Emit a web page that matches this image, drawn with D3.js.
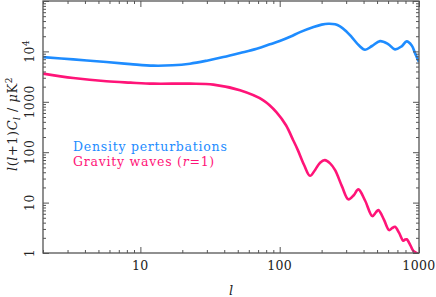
<!DOCTYPE html>
<html>
<head>
<meta charset="utf-8">
<script src="https://cdn.jsdelivr.net/npm/d3@7"></script>
<style>
  body { margin: 0; background: #fff; }
  svg { display: block; }
  text { font-family: "DejaVu Serif", "Liberation Serif", serif; }
</style>
</head>
<body>
<svg id="chart"></svg>
<script>
// multipoles l and the two spectra, l(l+1)C_l in uK^2
const densityL = [2, 3.3, 5.7, 8.5, 12.4, 17, 22.7, 30, 39.4, 52, 68.4, 85, 100, 120, 140, 175, 200, 223, 250, 271, 300, 329, 370, 410, 460, 525, 600, 673, 750, 816, 887, 940, 1000];
const densityCl = [7700, 6950, 6140, 5600, 5210, 5300, 5710, 6550, 7710, 9300, 11300, 13800, 16100, 19800, 24100, 30500, 34000, 35400, 34500, 31300, 25200, 19200, 13200, 10800, 12800, 16000, 14000, 10960, 12600, 15800, 13100, 9000, 6140];
const gravityL = [2, 3.3, 5.7, 8.5, 12.4, 22.7, 33.4, 51.9, 76.3, 95, 111, 125, 135, 150, 165, 180, 195, 211, 230, 250, 280, 311, 340, 367, 410, 462, 490, 511, 560, 610, 640, 673, 720, 772, 795, 816, 870, 911, 1000];
const gravityCl = [3620, 2960, 2550, 2400, 2290, 2290, 2190, 1690, 1070, 620, 342, 173, 110, 55, 34, 45, 62, 69.5, 60, 44, 21, 11.6, 14, 18.3, 11, 5.4, 6.4, 7.1, 4.6, 2.85, 3.1, 3.32, 2.5, 1.75, 1.85, 1.87, 1.4, 1.1, 0.95];

const xMajor = [10, 100, 1000];
const xMinor = [2, 3, 4, 5, 6, 7, 8, 9, 20, 30, 40, 50, 60, 70, 80, 90, 200, 300, 400, 500, 600, 700, 800, 900];
const yMajor = [1, 10, 100, 1000, 10000, 100000];
const yMinor = [];
[1, 10, 100, 1000, 10000].forEach(d => { for (let k = 2; k <= 9; k++) yMinor.push(d * k); });
const yLabels = ["1", "10", "100", "1000", "10^4"];

const W = 436, H = 297;
const margin = { top: 1, right: 17, bottom: 44, left: 43 };

const svg = d3.select("#chart").attr("width", W).attr("height", H);

const x = d3.scaleLog().domain([2, 1000]).range([margin.left, W - margin.right]);
const y = d3.scaleLog().domain([1, 1e5]).range([H - margin.bottom, margin.top]);

const AXIS = "#555";
const BLUE = "#1e8cff";
const PINK = "#ff1478";

svg.append("clipPath").attr("id", "plot")
  .append("rect")
  .attr("x", x.range()[0]).attr("y", y.range()[1])
  .attr("width", x.range()[1] - x.range()[0])
  .attr("height", y.range()[0] - y.range()[1]);

// curves
const line = (ls, vs) => d3.line()
  .x(i => x(ls[i]))
  .y(i => y(vs[i]))
  .curve(d3.curveCatmullRom.alpha(0.5))(d3.range(ls.length));

svg.append("path")
  .attr("d", line(densityL, densityCl))
  .attr("fill", "none").attr("stroke", BLUE).attr("stroke-width", 2.6)
  .attr("clip-path", "url(#plot)");

svg.append("path")
  .attr("d", line(gravityL, gravityCl))
  .attr("fill", "none").attr("stroke", PINK).attr("stroke-width", 2.6)
  .attr("clip-path", "url(#plot)");

// frame with ticks on all four sides, pointing inward
const x0 = x.range()[0], x1 = x.range()[1];
const y0 = y.range()[0], y1 = y.range()[1];

const bottomAxis = (vals, len) => d3.axisTop(x).tickValues(vals).tickSize(len).tickFormat("");
const topAxis = (vals, len) => d3.axisBottom(x).tickValues(vals).tickSize(len).tickFormat("");
const leftAxis = (vals, len) => d3.axisRight(y).tickValues(vals).tickSize(len).tickFormat("");
const rightAxis = (vals, len) => d3.axisLeft(y).tickValues(vals).tickSize(len).tickFormat("");

const axes = [
  [bottomAxis, `translate(0,${y0})`],
  [topAxis, `translate(0,${y1})`],
  [leftAxis, `translate(${x0},0)`],
  [rightAxis, `translate(${x1},0)`]
];
axes.forEach(([fn, tr]) => {
  const isX = fn === bottomAxis || fn === topAxis;
  [[isX ? xMinor : yMinor, 3], [isX ? xMajor : yMajor, 6]].forEach(([vals, len]) => {
    const g = svg.append("g").attr("transform", tr).call(fn(vals, len));
    g.select(".domain").remove();
    g.selectAll("line").attr("stroke", AXIS).attr("stroke-width", 1);
  });
});

svg.append("rect")
  .attr("x", x0).attr("y", y1)
  .attr("width", x1 - x0).attr("height", y0 - y1)
  .attr("fill", "none").attr("stroke", AXIS).attr("stroke-width", 1.3);

// x tick labels
svg.append("g").selectAll("text")
  .data(xMajor)
  .join("text")
  .attr("x", d => x(d))
  .attr("y", y0 + 17)
  .attr("text-anchor", "middle")
  .attr("font-size", 12.5)
  .attr("letter-spacing", 0.4)
  .attr("fill", "#222")
  .text(d => d);

// y tick labels, rotated
const yl = svg.append("g").selectAll("text")
  .data(yLabels)
  .join("text")
  .attr("transform", (d, i) => `translate(34,${y(yMajor[i])}) rotate(-90)`)
  .attr("text-anchor", "middle")
  .attr("font-size", 12.5)
  .attr("letter-spacing", 0.4)
  .attr("fill", "#222");
yl.each(function (d) {
  const t = d3.select(this);
  if (d.includes("^")) {
    const [b, e] = d.split("^");
    t.append("tspan").text(b);
    t.append("tspan").attr("dy", -5).attr("font-size", 9).text(e);
  } else {
    t.text(d);
  }
});

// axis titles
svg.append("text")
  .attr("x", (x0 + x1) / 2)
  .attr("y", 295)
  .attr("text-anchor", "middle")
  .attr("font-size", 13)
  .attr("font-style", "italic")
  .attr("fill", "#222")
  .text("l");

const yt = svg.append("text")
  .attr("transform", `translate(17,124) rotate(-90)`)
  .attr("text-anchor", "middle")
  .attr("font-size", 13)
  .attr("letter-spacing", 0.5)
  .attr("fill", "#222");
yt.append("tspan").attr("font-style", "italic").text("l");
yt.append("tspan").text("(");
yt.append("tspan").attr("font-style", "italic").text("l");
yt.append("tspan").text("+1)");
yt.append("tspan").attr("font-style", "italic").text("C");
yt.append("tspan").attr("font-style", "italic").attr("font-size", 9).attr("dy", 3).text("l");
yt.append("tspan").attr("dy", -3).text("  /  ");
yt.append("tspan").attr("font-style", "italic").text("μ");
yt.append("tspan").text("K");
yt.append("tspan").attr("font-size", 9).attr("dy", -5).text("2");

// legend
svg.append("text")
  .attr("x", 73).attr("y", 151)
  .attr("font-size", 12.5)
  .attr("letter-spacing", 0.75)
  .attr("fill", BLUE)
  .text("Density perturbations");

const gw = svg.append("text")
  .attr("x", 73).attr("y", 166)
  .attr("font-size", 12.5)
  .attr("letter-spacing", 0.75)
  .attr("fill", PINK);
gw.append("tspan").text("Gravity waves (");
gw.append("tspan").attr("font-style", "italic").text("r");
gw.append("tspan").text("=1)");
</script>
</body>
</html>
